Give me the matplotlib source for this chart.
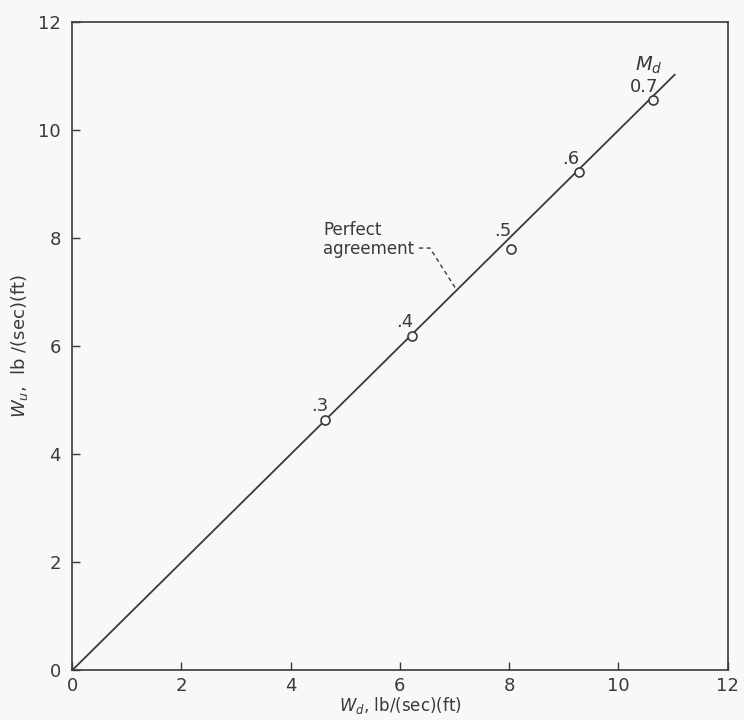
import numpy as np
import matplotlib.pyplot as plt

# ---------------- DATA ----------------
mach = [".3", ".4", ".5", ".6", "0.7"]
w_d = [4.63, 6.22, 8.04, 9.27, 10.64]
w_u = [4.63, 6.19, 7.80, 9.22, 10.56]
line_x = [0, 11.03]
ticks = [0, 2, 4, 6, 8, 10, 12]

ink = "#3a3a3a"
plt.rcParams['font.family'] = ['DejaVu Sans']

fig = plt.figure(figsize=(7.44, 7.2), dpi=100, facecolor="#f8f8f6")
ax = fig.add_axes([0.097, 0.069, 0.881, 0.900])
ax.set_facecolor("#f8f8f6")

# perfect agreement line
ax.plot(line_x, line_x, color=ink, lw=1.3)
ax.plot(w_d, w_u, "o", ms=6.5, mfc="#f8f8f6", mec=ink, mew=1.2)

# point labels
offsets = {".3": (-0.09, 0.26), ".4": (-0.13, 0.26), ".5": (-0.16, 0.33),
           ".6": (-0.15, 0.24), "0.7": (-0.16, 0.24)}
for lab, x, y in zip(mach, w_d, w_u):
    dx, dy = offsets[lab]
    ax.text(x + dx, y + dy, lab, fontsize=13, color=ink, ha="center", va="center")
ax.text(10.55, 11.2, "$M_d$", fontsize=14, color=ink, ha="center", va="center")

# annotation
ax.text(4.59, 7.98, "Perfect\nagreement", fontsize=12, color=ink,
        ha="left", va="center", linespacing=1.05)
ax.plot([6.35, 6.55, 7.04], [7.82, 7.82, 7.04], color=ink, lw=1, ls=(0, (3, 2.5)))

ax.set_xlim(0, 12)
ax.set_ylim(0, 12)
ax.set_xticks(ticks)
ax.set_yticks(ticks)
ax.tick_params(direction="in", length=6, width=1, colors=ink, labelsize=13)
ax.tick_params(axis="x", pad=5)
ax.tick_params(axis="y", pad=8)
for s in ax.spines.values():
    s.set_color(ink)
    s.set_linewidth(1.2)

ax.set_xlabel("$W_d$, lb/(sec)(ft)", fontsize=12, color=ink, labelpad=0)
ax.set_ylabel("$W_u$,  lb /(sec)(ft)", fontsize=13, color=ink, labelpad=6)

fig.savefig("out.png", dpi=100, facecolor=fig.get_facecolor())
